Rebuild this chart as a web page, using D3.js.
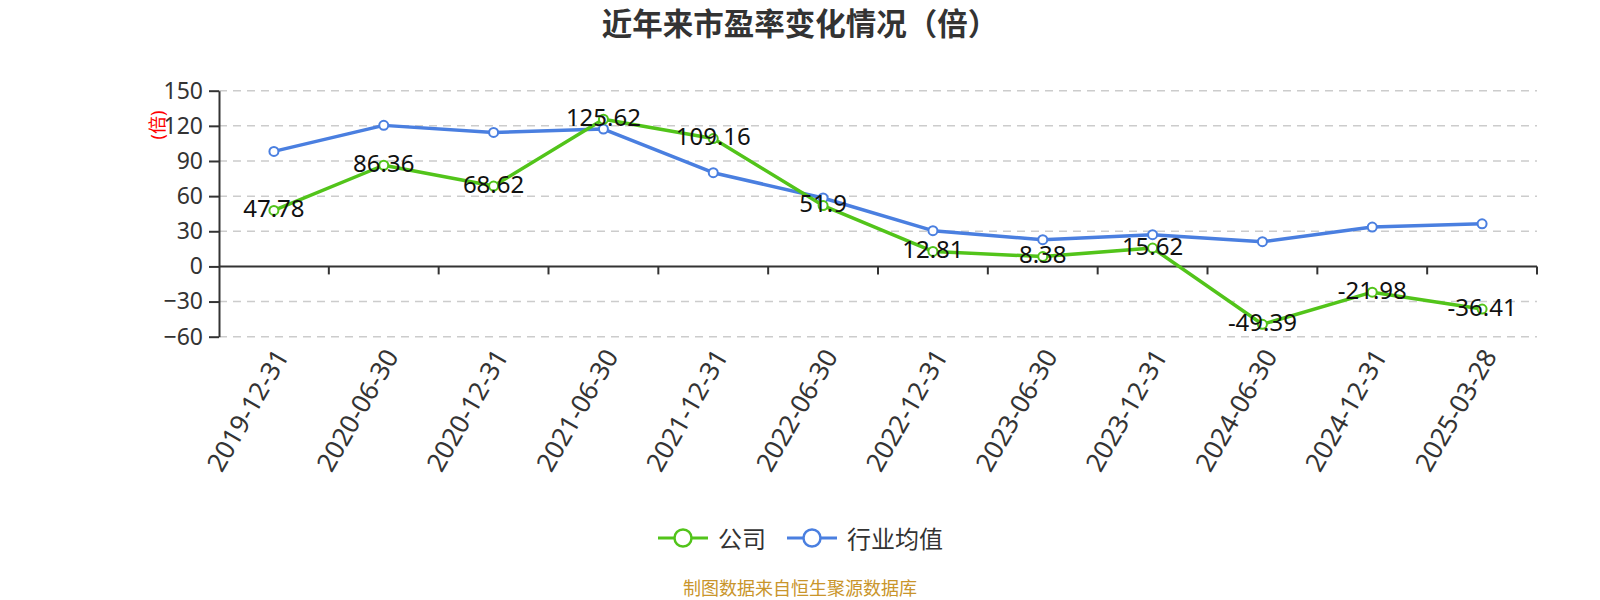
<!DOCTYPE html>
<html>
<head>
<meta charset="utf-8">
<script src="https://cdn.jsdelivr.net/npm/d3@7"></script>
<style>
  body { margin: 0; background: #fff; }
  text { font-family: "Noto Sans", "Noto Sans CJK SC", sans-serif; }
</style>
</head>
<body>
<div id="chart"></div>
<script>
// data
var dates = ["2019-12-31", "2020-06-30", "2020-12-31", "2021-06-30", "2021-12-31", "2022-06-30",
             "2022-12-31", "2023-06-30", "2023-12-31", "2024-06-30", "2024-12-31", "2025-03-28"];
var company = [47.78, 86.36, 68.62, 125.62, 109.16, 51.9, 12.81, 8.38, 15.62, -49.39, -21.98, -36.41];
var industry = [98.2, 120.4, 114.4, 117.3, 80.0, 58.4, 30.5, 22.8, 27.1, 21.1, 33.6, 36.4];
var yTicks = [150, 120, 90, 60, 30, 0, -30, -60];
var seriesNames = ["公司", "行业均值"];
var colors = ["#52c41a", "#4a7fe0"];

var W = 1600, H = 600;
var plotLeft = 219, plotRight = 1537, plotTop = 90.7, plotBottom = 336.7;

var svg = d3.select("#chart").append("svg")
    .attr("width", W)
    .attr("height", H);

var x = d3.scaleBand().domain(dates).range([plotLeft, plotRight]);
var y = d3.scaleLinear().domain([-60, 150]).range([plotBottom, plotTop]);

// title
svg.append("text")
    .attr("x", W / 2)
    .attr("y", 23)
    .attr("text-anchor", "middle")
    .attr("dominant-baseline", "central")
    .attr("font-size", 30.5)
    .attr("font-weight", "bold")
    .attr("fill", "#333")
    .text("近年来市盈率变化情况（倍）");

// y axis name
svg.append("text")
    .attr("transform", "translate(157,125) rotate(-90)")
    .attr("text-anchor", "middle")
    .attr("dominant-baseline", "central")
    .attr("font-size", 18)
    .attr("fill", "red")
    .text("(倍)");

// grid lines
svg.append("g").selectAll("line")
    .data(yTicks.filter(function(d) { return d !== 0; }))
  .enter().append("line")
    .attr("x1", plotLeft)
    .attr("x2", plotRight)
    .attr("y1", function(d) { return y(d); })
    .attr("y2", function(d) { return y(d); })
    .attr("stroke", "#ccc")
    .attr("stroke-width", 1.5)
    .attr("stroke-dasharray", "8,6");

// y axis
var yAxis = svg.append("g")
    .attr("transform", "translate(" + plotLeft + ",0)")
    .call(d3.axisLeft(y).tickValues(yTicks).tickSize(10).tickSizeOuter(0).tickPadding(6));
yAxis.select(".domain").attr("stroke", "#333").attr("stroke-width", 2);
yAxis.selectAll(".tick line").attr("stroke", "#333").attr("stroke-width", 2);
yAxis.selectAll(".tick text")
    .attr("font-size", 23)
    .attr("fill", "#333")
    .style("font-family", "'Noto Sans', sans-serif");

// x axis on zero
var xAxis = svg.append("g")
    .attr("transform", "translate(0," + y(0) + ")");
xAxis.append("line")
    .attr("x1", plotLeft).attr("x2", plotRight)
    .attr("stroke", "#333").attr("stroke-width", 2);
xAxis.selectAll(".tk")
    .data(dates)
  .enter().append("line")
    .attr("x1", function(d) { return x(d) + x.step(); })
    .attr("x2", function(d) { return x(d) + x.step(); })
    .attr("y1", 0).attr("y2", 8)
    .attr("stroke", "#333").attr("stroke-width", 2);

// x labels
svg.append("g").selectAll("text")
    .data(dates)
  .enter().append("text")
    .attr("transform", function(d) {
      return "translate(" + (x(d) + x.bandwidth() / 2 + 7) + ",351) rotate(-60)";
    })
    .attr("text-anchor", "end")
    .attr("dominant-baseline", "central")
    .attr("font-size", 26)
    .attr("fill", "#333")
    .text(function(d) { return d; });

// lines
var line = d3.line()
    .x(function(d, i) { return x(dates[i]) + x.bandwidth() / 2; })
    .y(function(d) { return y(d); });

[industry, company].forEach(function(vals, k) {
  var c = k === 0 ? colors[1] : colors[0];
  svg.append("path")
      .datum(vals)
      .attr("fill", "none")
      .attr("stroke", c)
      .attr("stroke-width", 3.5)
      .attr("stroke-linejoin", "round")
      .attr("d", line);
  svg.append("g").selectAll("circle")
      .data(vals)
    .enter().append("circle")
      .attr("cx", function(d, i) { return x(dates[i]) + x.bandwidth() / 2; })
      .attr("cy", function(d) { return y(d); })
      .attr("r", 4.5)
      .attr("fill", "#fff")
      .attr("stroke", c)
      .attr("stroke-width", 2);
});

// company labels
svg.append("g").selectAll("text")
    .data(company)
  .enter().append("text")
    .attr("x", function(d, i) { return x(dates[i]) + x.bandwidth() / 2; })
    .attr("y", function(d) { return y(d) - 3; })
    .attr("text-anchor", "middle")
    .attr("dominant-baseline", "central")
    .attr("font-size", 24)
    .attr("fill", "#111")
    .text(function(d) { return d; });

// legend
var legendX = [658, 787];
var lg = svg.append("g").selectAll("g")
    .data(seriesNames)
  .enter().append("g")
    .attr("transform", function(d, i) { return "translate(" + legendX[i] + ",538)"; });
lg.append("line")
    .attr("x1", 0).attr("x2", 50)
    .attr("stroke", function(d, i) { return colors[i]; })
    .attr("stroke-width", 3);
lg.append("circle")
    .attr("cx", 25).attr("r", 8.5)
    .attr("fill", "#fff")
    .attr("stroke", function(d, i) { return colors[i]; })
    .attr("stroke-width", 2.5);
lg.append("text")
    .attr("x", 60)
    .attr("dominant-baseline", "central")
    .attr("font-size", 24)
    .attr("fill", "#333")
    .text(function(d) { return d; });

// source note
svg.append("text")
    .attr("x", 800)
    .attr("y", 588)
    .attr("text-anchor", "middle")
    .attr("dominant-baseline", "central")
    .attr("font-size", 18)
    .attr("fill", "#c9952b")
    .text("制图数据来自恒生聚源数据库");
</script>
</body>
</html>
